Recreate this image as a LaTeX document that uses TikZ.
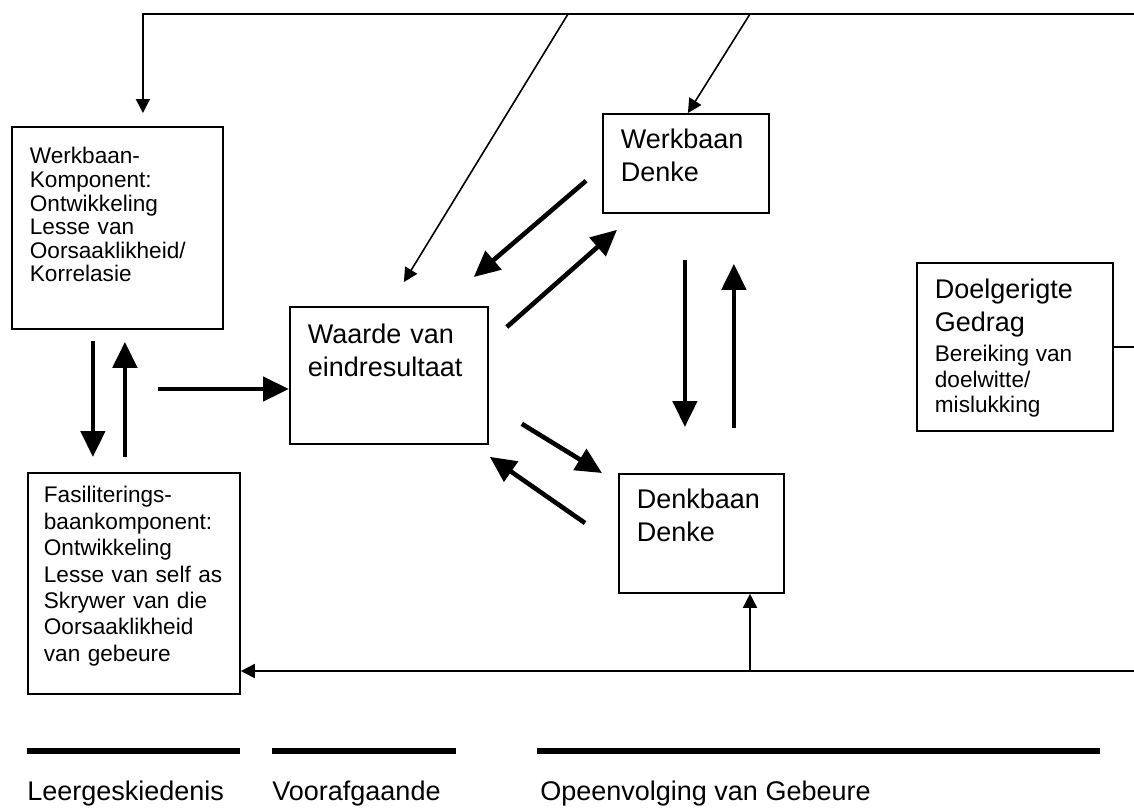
\documentclass[tikz,border=0pt]{standalone}
\usepackage{fontspec}
\setmainfont{Liberation Sans}
\usetikzlibrary{arrows.meta}
\newcommand{\groot}{\fontsize{13.5pt}{16.5pt}\selectfont}
\newcommand{\klein}{\fontsize{11.3pt}{12.8pt}\selectfont}

\begin{document}
\begin{tikzpicture}[x=0.5pt, y=-0.5pt,
blok/.style = { draw, line width=0.9pt, anchor=north west, align=left, inner xsep=9pt, inner ysep=0pt},
dik/.style = { line width=2.3pt, -{Triangle[length=13pt,width=12pt]}},
dun/.style = { line width=0.8pt, -{Triangle[length=7pt,width=7pt]}},
streep/.style = { line width=2.6pt},
onder/.style = { anchor=base west, inner sep=0pt, font=\groot}]
\useasboundingbox (0,0) rectangle (1134,811);
\node[blok, text width=87.5pt, text height=18.5pt, text depth=82.5pt, font={\fontsize{11.3pt}{11.8pt}\selectfont}] (werkkomp) at (11,126) {Werkbaan-\\Komponent:\\Ontwikkeling\\Lesse van\\Oorsaaklikheid/\\Korrelasie};
\node[blok, text width=81pt, text height=18.5pt, text depth=50pt, font=\groot] (waarde) at (289,306) {Waarde van\\eindresultaat};
\node[blok, text width=65pt, text height=17.5pt, text depth=32pt, font=\groot] (werkdenke) at (602,113) {Werkbaan\\Denke};
\node[blok, text width=64.5pt, text height=17.5pt, text depth=42pt, font=\groot] (denkdenke) at (618,473) {Denkbaan\\Denke};
\node[blok, text width=80pt, text height=18pt, text depth=66pt] (doel) at (916,262) {{\groot Doelgerigte\\Gedrag\par}\vspace{2pt}{\klein Bereiking van\\doelwitte/\\mislukking\par}};
\node[blok, inner xsep=8pt, text width=90pt, text height=15pt, text depth=95.5pt, font={\fontsize{11.3pt}{13.2pt}\selectfont}] (fasil) at (27,472) {Fasiliterings-\\baankomponent:\\Ontwikkeling\\Lesse van self as\\Skrywer van die\\Oorsaaklikheid\\van gebeure};
\coordinate (bo) at (1134,14);
\coordinate (tak1) at (568,14);
\coordinate (tak2) at (750,14);
\coordinate (ondR) at (1134,671);
\coordinate (tak3) at (750,671);
\coordinate (komp) at (158,389);
\draw[dun, shorten >=6.5pt] (bo) -| ([xshift=12.75pt]werkkomp.north);
\draw[dun] (tak1) -- ([xshift=7.5pt,yshift=12pt]waarde.north);
\draw[dun] (tak2) -- ([xshift=1pt]werkdenke.north);
\draw[dun] (ondR) -- (ondR -| fasil.east);
\draw[dun] (tak3) -- (tak3 |- denkdenke.south);
\draw[line width=0.8pt] (doel.east) -- ++(22,0);
\draw[dik, shorten <=5.5pt, shorten >=7.5pt] ([xshift=-12.25pt]werkkomp.south) -- ([xshift=-20.5pt]fasil.north);
\draw[dik, shorten <=7.5pt, shorten >=6pt] ([xshift=-4.5pt]fasil.north) -- ([xshift=3.75pt]werkkomp.south);
\draw[dik] (komp) -- (komp -| waarde.west);
\draw[dik] ([xshift=-8pt,yshift=16.5pt]werkdenke.south west) -- ([xshift=-7.5pt,yshift=14.5pt]waarde.north east);
\draw[dik] ([xshift=9pt,yshift=-10.5pt]waarde.north east) -- ([xshift=7.5pt,yshift=-8pt]werkdenke.south west);
\draw[dik] ([xshift=-0.5pt,yshift=-23pt]werkdenke.south) -- ([xshift=-8.25pt,yshift=23pt]denkdenke.north);
\draw[dik] ([xshift=16.25pt,yshift=22.5pt]denkdenke.north) -- ([xshift=24pt,yshift=-25pt]werkdenke.south);
\draw[dik] ([xshift=16.5pt,yshift=10.5pt]waarde.south east) -- ([xshift=-8pt]denkdenke.north west);
\draw[dik] ([xshift=-16.5pt,yshift=-25pt]denkdenke.north west) -- ([xshift=0.5pt,yshift=-6pt]waarde.south east);
\node[onder] (leer) at (27,800) {Leergeskiedenis};
\node[onder] (voor) at (272,800) {Voorafgaande};
\node[onder] (opeen) at (540,800) {Opeenvolging van Gebeure};
\draw[streep] ([yshift=24.5pt]leer.base west) -- ++(213,0);
\draw[streep] ([yshift=24.5pt]voor.base west) -- ++(184,0);
\draw[streep] ([xshift=-1.5pt,yshift=24.5pt]opeen.base west) -- ++(563,0);
\end{tikzpicture}
\end{document}
